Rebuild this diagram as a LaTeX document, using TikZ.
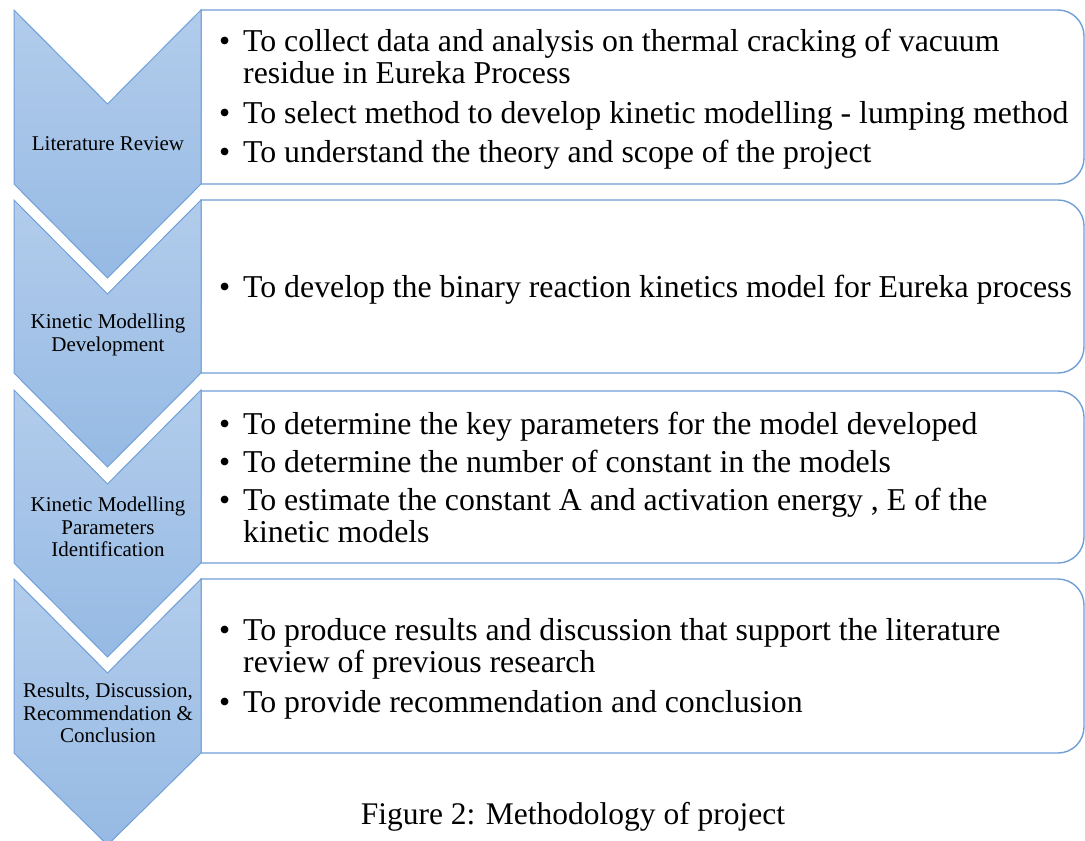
\documentclass[tikz,border=0pt]{standalone}
\usepackage{fontspec}
\setmainfont{Liberation Serif}
\definecolor{chevtop}{RGB}{178,204,235}
\definecolor{chevbot}{RGB}{150,186,228}
\definecolor{chevline}{RGB}{112,160,218}
\definecolor{boxline}{RGB}{112,158,214}
\tikzset{
  chev/.style={draw=chevline, line width=1pt, top color=chevtop, bottom color=chevbot},
  rbox/.style={draw=boxline, line width=1.4pt, fill=white},
  lab/.style={font=\fontsize{21}{22.5}\selectfont, align=center, inner sep=0pt},
  btext/.style={font=\fontsize{31.8}{32}\selectfont, anchor=west, inner sep=0pt},
  capt/.style={font=\fontsize{31.5}{34}\selectfont, inner sep=0pt}
}
\newcommand{\rbpath}[2]{(201,#1) -- (1058,#1) arc[start angle=-90, end angle=0, radius=26] -- (1084,#2-26) arc[start angle=0, end angle=90, radius=26] -- (201,#2) -- cycle}
\begin{document}
\begin{tikzpicture}[x=1pt,y=-1pt]
\useasboundingbox (0,0) rectangle (1085,841);
% boxes
\draw[rbox] \rbpath{10}{184};
\draw[rbox] \rbpath{200}{373};
\draw[rbox] \rbpath{391}{563};
\draw[rbox] \rbpath{579}{753};
% chevrons
\draw[chev] (14,10) -- (107.5,104) -- (201,10) -- (201,184) -- (107.5,278) -- (14,184) -- cycle;
\draw[chev] (14,200) -- (107.5,294) -- (201,200) -- (201,373) -- (107.5,467) -- (14,373) -- cycle;
\draw[chev] (14,390) -- (107.5,484) -- (201,390) -- (201,563) -- (107.5,657) -- (14,563) -- cycle;
\draw[chev] (14,579) -- (107.5,673) -- (201,579) -- (201,753) -- (107.5,845) -- (14,753) -- cycle;
% chevron labels
\node[lab] (l1) at (108,144) {Literature Review};
\node[lab] (l2) at (108,335) {Kinetic Modelling\\Development};
\node[lab] (l3) at (108,527) {Kinetic Modelling\\Parameters\\Identification};
\node[lab] (l4) at (108,713) {Results, Discussion,\\Recommendation \&\\Conclusion};
% bullet texts
\node[btext] (t1) at (219,101) {\begin{tabular}{@{}p{24pt}@{}l@{}}
\textbullet & To collect data and analysis on thermal cracking of vacuum\\
 & residue in Eureka Process\\[8pt]
\textbullet & To select method to develop kinetic modelling - lumping method\\[7pt]
\textbullet & To understand the theory and scope of the project
\end{tabular}};
\node[btext] (t2) at (219,291) {\begin{tabular}{@{}p{24pt}@{}l@{}}
\textbullet & To develop the binary reaction kinetics model for Eureka process
\end{tabular}};
\node[btext] (t3) at (219,482) {\begin{tabular}{@{}p{24pt}@{}l@{}}
\textbullet & To determine the key parameters for the model developed\\[6pt]
\textbullet & To determine the number of constant in the models\\[6pt]
\textbullet & To estimate the constant A and activation energy , E of the\\
 & kinetic models
\end{tabular}};
\node[btext] (t4) at (219,670) {\begin{tabular}{@{}p{24pt}@{}l@{}}
\textbullet & To produce results and discussion that support the literature\\
 & review of previous research\\[8pt]
\textbullet & To provide recommendation and conclusion
\end{tabular}};
% caption
\node[capt] (cap) at (573,817) {Figure 2: Methodology of project};
\end{tikzpicture}
\end{document}
